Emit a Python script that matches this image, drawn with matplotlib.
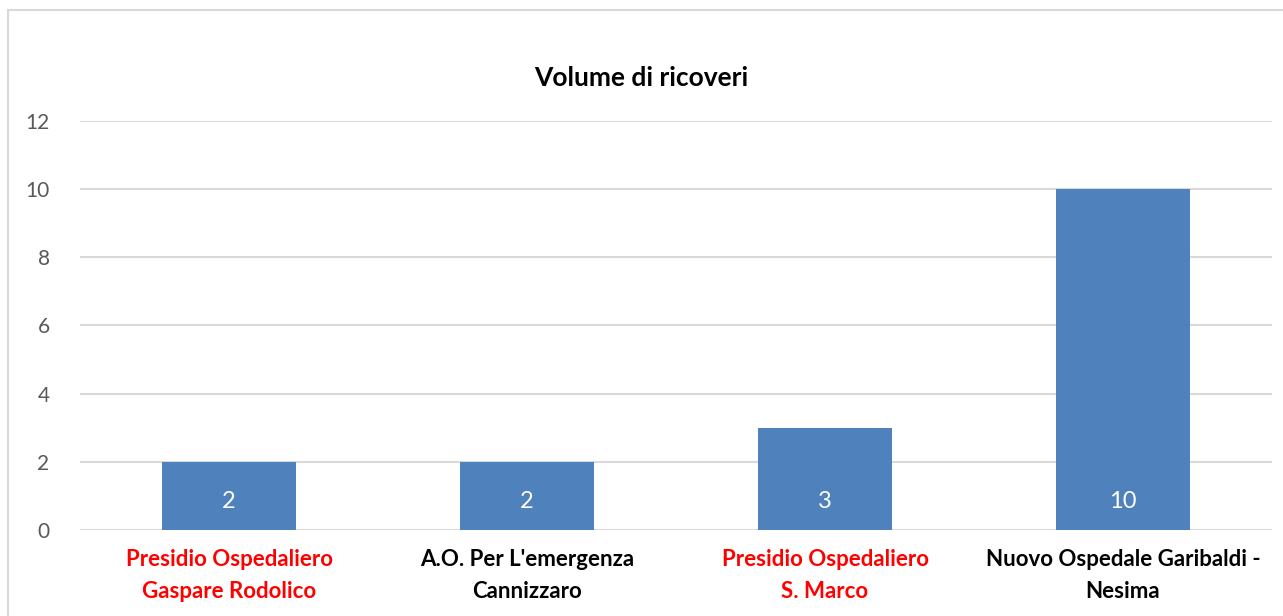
import matplotlib
matplotlib.use("Agg")
import matplotlib.pyplot as plt
from matplotlib.patches import Rectangle

categories = ["Presidio Ospedaliero\nGaspare Rodolico",
              "A.O. Per L'emergenza\nCannizzaro",
              "Presidio Ospedaliero\nS. Marco",
              "Nuovo Ospedale Garibaldi -\nNesima"]
values = [2, 2, 3, 10]
label_colors = ["#FF0000", "#000000", "#FF0000", "#000000"]
yticks = [0, 2, 4, 6, 8, 10, 12]

plt.rcParams['font.family'] = ['Lato', 'DejaVu Sans']

fig = plt.figure(figsize=(12.83, 6.16), dpi=100)
# outer chart-area border
fig.patches.append(Rectangle((8 / 1283, -0.1), 1.2, 1 - 10 / 616 + 0.1,
                             transform=fig.transFigure, fill=False,
                             edgecolor="#D9D9D9", linewidth=1.5))

ax = fig.add_axes([0.0624, 0.1396, 0.929, 0.664])
x = list(range(len(categories)))
ax.bar(x, values, width=0.45, color="#4F81BD", zorder=3)
for i, v in enumerate(values):
    ax.text(i, 0.85, str(v), ha="center", va="center", color="white",
            fontsize=17, zorder=4)

ax.set_xlim(-0.5, len(categories) - 0.5)
ax.set_ylim(0, 12)
ax.set_yticks(yticks)
ax.set_yticklabels([str(t) for t in yticks], fontsize=15, color="#595959")
ax.tick_params(axis="y", length=0, pad=22)
ax.tick_params(axis="x", length=0, pad=14)
ax.set_xticks(x)
ax.set_xticklabels(categories, fontsize=16, fontweight="bold", linespacing=1.6)
for lbl, c in zip(ax.get_xticklabels(), label_colors):
    lbl.set_color(c)
ax.grid(axis="y", color="#D9D9D9", linewidth=1.5, zorder=0)
for s in ax.spines.values():
    s.set_visible(False)

fig.text(0.5, 1 - 78 / 616, "Volume di ricoveri", ha="center", va="center",
         fontsize=19, fontweight="bold", color="#000000")

fig.savefig("out.png", dpi=100)
